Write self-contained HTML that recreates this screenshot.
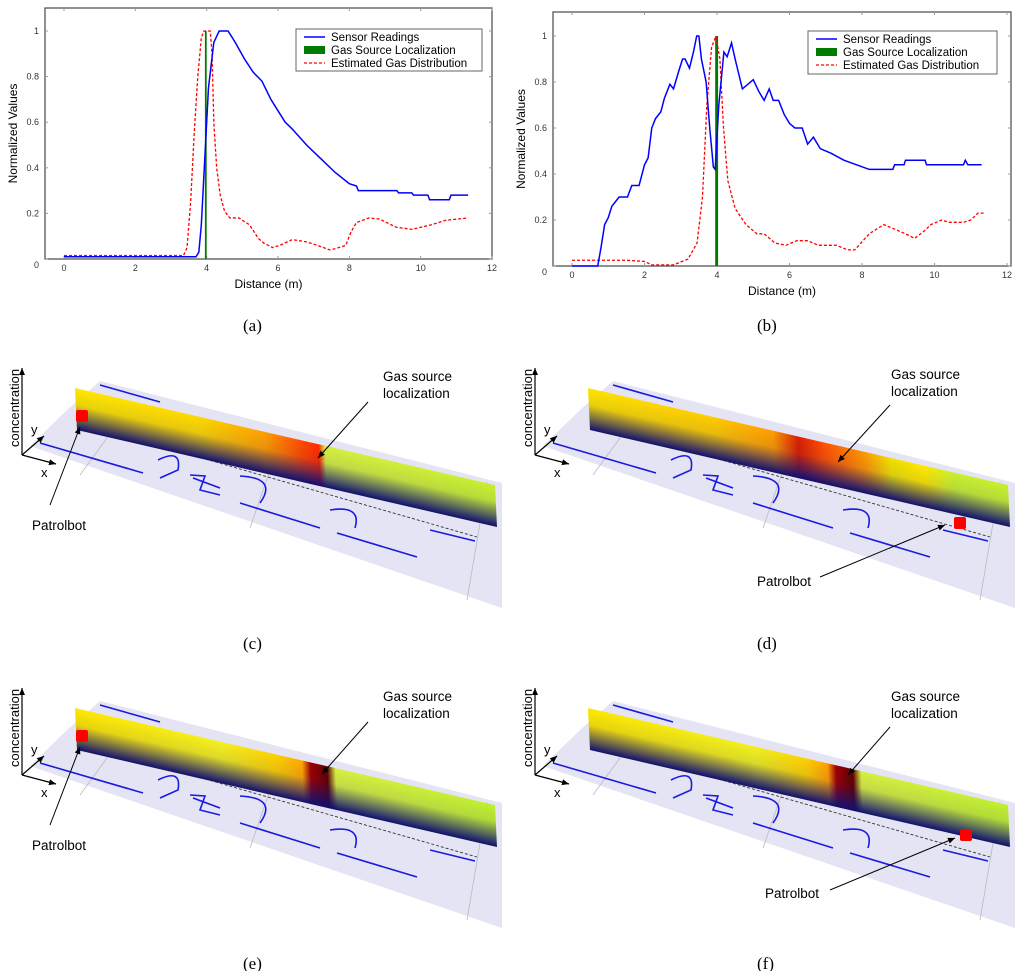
<!DOCTYPE html>
<html><head><meta charset="utf-8">
<style>
html,body{margin:0;padding:0;background:#fff;}
svg{display:block;font-family:"Liberation Sans",sans-serif;}
.cap{font-family:"Liberation Serif",serif;font-size:17px;}
</style></head>
<body>
<svg id="fig" width="1024" height="971" viewBox="0 0 1024 971" xmlns="http://www.w3.org/2000/svg">
<defs>
<linearGradient id="shade" x1="0" y1="0" x2="0" y2="1">
<stop offset="0" stop-color="#14147a" stop-opacity="0"/>
<stop offset="0.4" stop-color="#14147a" stop-opacity="0.1"/>
<stop offset="1" stop-color="#101070" stop-opacity="1"/>
</linearGradient>
<marker id="ah" markerWidth="8" markerHeight="8" refX="7" refY="4" orient="auto" markerUnits="userSpaceOnUse"><path d="M0,1 L7,4 L0,7 Z" fill="#000"/></marker>
</defs>
<g id="charts"></g>
<g id="panels"></g>
<text class="cap" x="243" y="331">(a)</text>
<text class="cap" x="757" y="331">(b)</text>
<text class="cap" x="243" y="649">(c)</text>
<text class="cap" x="757" y="649">(d)</text>
<text class="cap" x="243" y="969">(e)</text>
<text class="cap" x="757" y="969">(f)</text>
</svg>
<script>
const NS="http://www.w3.org/2000/svg";
// ---- chart data ----
const xTicks=[0,2,4,6,8,10,12];
const yTicks=[0,0.2,0.4,0.6,0.8,1];
const yTickLabels=["0","0.2","0.4","0.6","0.8","1"];
const sensorAx=[0,3.7,3.78,3.85,3.95,4.05,4.2,4.35,4.6,4.8,5.05,5.3,5.55,5.8,6.0,6.2,6.4,6.8,7.2,7.6,8.0,8.2,8.25,9.33,9.38,9.75,9.8,10.2,10.25,10.8,10.85,11.33];
const sensorAy=[0.01,0.01,0.03,0.15,0.45,0.75,0.95,1.0,1.0,0.95,0.88,0.82,0.78,0.7,0.65,0.6,0.57,0.5,0.44,0.38,0.33,0.32,0.3,0.3,0.29,0.29,0.28,0.28,0.26,0.26,0.28,0.28];
const estAx=[0,3.35,3.45,3.55,3.65,3.75,3.85,3.92,4.1,4.15,4.2,4.28,4.38,4.5,4.65,4.9,5.2,5.45,5.6,5.85,6.05,6.4,6.8,7.1,7.45,7.6,7.9,8.05,8.2,8.55,8.85,9.3,9.75,10.3,10.7,11.33];
const estAy=[0.015,0.015,0.05,0.25,0.55,0.8,0.97,1.0,1.0,0.9,0.6,0.4,0.28,0.21,0.18,0.18,0.15,0.09,0.07,0.05,0.06,0.085,0.075,0.06,0.04,0.045,0.06,0.12,0.16,0.18,0.175,0.14,0.13,0.15,0.17,0.18];
const sourceA=[3.95,4.0];
const sensorBx=[0,0.71,0.8,0.9,1.0,1.1,1.2,1.3,1.53,1.65,1.85,2.0,2.1,2.2,2.3,2.45,2.55,2.7,2.8,2.95,3.05,3.12,3.24,3.35,3.44,3.5,3.57,3.7,3.8,3.9,3.95,4.05,4.19,4.28,4.4,4.5,4.7,4.85,5.0,5.15,5.3,5.44,5.55,5.7,5.85,6.0,6.15,6.35,6.5,6.66,6.85,7.15,7.5,7.85,8.2,8.85,8.9,9.16,9.2,9.74,9.78,10.8,10.85,10.92,11.3];
const sensorBy=[0,0,0.08,0.18,0.21,0.26,0.28,0.3,0.3,0.35,0.35,0.44,0.47,0.6,0.64,0.67,0.73,0.79,0.77,0.85,0.9,0.9,0.86,0.93,1.0,1.0,0.9,0.8,0.6,0.43,0.42,0.7,0.93,0.91,0.97,0.9,0.77,0.79,0.81,0.76,0.72,0.77,0.72,0.72,0.66,0.62,0.6,0.6,0.53,0.56,0.51,0.49,0.46,0.44,0.42,0.42,0.44,0.44,0.46,0.46,0.44,0.44,0.46,0.44,0.44];
const estBx=[0,1.5,2.0,2.2,2.8,3.2,3.45,3.6,3.72,3.85,3.97,4.08,4.18,4.3,4.5,4.8,5.1,5.3,5.6,5.9,6.2,6.5,6.8,7.3,7.6,7.8,8.2,8.6,8.9,9.2,9.45,9.7,9.9,10.2,10.4,10.8,11.0,11.2,11.4];
const estBy=[0.025,0.025,0.02,0.005,0.005,0.03,0.1,0.3,0.7,0.95,1.0,0.9,0.6,0.37,0.25,0.18,0.14,0.14,0.1,0.09,0.11,0.11,0.09,0.09,0.07,0.07,0.14,0.18,0.16,0.14,0.12,0.15,0.18,0.2,0.19,0.19,0.2,0.23,0.23];
const sourceB=[3.95,4.03];

function mk(tag,attrs,parent){const e=document.createElementNS(NS,tag);for(const k in attrs)e.setAttribute(k,attrs[k]);parent.appendChild(e);return e;}

function drawChart(id,box,x0px,unit,y0px,yh,sx,sy,ex,ey,src,leg){
  const g=mk('g',{},document.getElementById('charts'));
  
  
  const X=v=>x0px+unit*v, Y=v=>y0px-yh*v;
  const fr=mk('rect',{x:box[0],y:box[1],width:box[2]-box[0],height:box[3]-box[1],fill:'#fff',stroke:'#555','stroke-width':1.3},g);
  
  
  xTicks.forEach(t=>{
    mk('line',{x1:X(t),x2:X(t),y1:box[3],y2:box[3]-3,stroke:'#999'},g);
    mk('line',{x1:X(t),x2:X(t),y1:box[1],y2:box[1]+3,stroke:'#999'},g);
    const tx=mk('text',{x:X(t),y:box[3]+12,'font-size':9,'text-anchor':'middle',fill:'#333'},g);
    tx.textContent=t;
    
    
  });
  yTicks.forEach((t,i)=>{
    mk('line',{x1:box[0],x2:box[0]+3,y1:Y(t),y2:Y(t),stroke:'#999'},g);
    mk('line',{x1:box[2],x2:box[2]-3,y1:Y(t),y2:Y(t),stroke:'#999'},g);
    const tx=mk('text',{x:box[0]-6,y:Y(t)+3+(i==0?6:0),'font-size':9,'text-anchor':'end',fill:'#333'},g);
    tx.textContent=yTickLabels[i];
    
    
  });
  const xt=mk('text',{x:(box[0]+box[2])/2,y:box[3]+29,'font-size':12,'text-anchor':'middle'},g);
  xt.textContent='Distance (m)';
  
  
  const cy=(box[1]+box[3])/2, tx0=box[0]-28;
  const yt=mk('text',{x:tx0,y:cy,'font-size':12,'text-anchor':'middle',transform:`rotate(-90 ${tx0} ${cy})`},g);
  yt.textContent='Normalized  Values';
  
  
  const s=mk('rect',{x:X(src[0]),y:Y(1),width:X(src[1])-X(src[0]),height:Y(0)-Y(1),fill:'#007a00'},g);
  
  
  const pe=mk('polyline',{points:ex.map((v,i)=>X(v)+','+Y(ey[i])).join(' '),fill:'none',stroke:'#ff0000','stroke-width':1.3,'stroke-dasharray':'3,2'},g);
  
  
  const ps=mk('polyline',{points:sx.map((v,i)=>X(v)+','+Y(sy[i])).join(' '),fill:'none',stroke:'#0000ff','stroke-width':1.5},g);
  
  
  const lg=mk('g',{},g);
  
  
  mk('rect',{x:leg[0],y:leg[1],width:leg[2],height:leg[3],fill:'#fff',stroke:'#666','stroke-width':1},lg);
  const names=['Sensor Readings','Gas Source Localization','Estimated Gas Distribution'];
  names.forEach((n,i)=>{
    const yy=leg[1]+8+i*13;
    if(i==0)mk('line',{x1:leg[0]+8,x2:leg[0]+29,y1:yy,y2:yy,stroke:'#0000ff','stroke-width':1.5},lg);
    if(i==1)mk('rect',{x:leg[0]+8,y:yy-4,width:21,height:8,fill:'#007a00'},lg);
    if(i==2)mk('line',{x1:leg[0]+8,x2:leg[0]+29,y1:yy,y2:yy,stroke:'#ff0000','stroke-width':1.3,'stroke-dasharray':'3,2'},lg);
    const t=mk('text',{x:leg[0]+35,y:yy+4,'font-size':11.5},lg);
    t.textContent=n;
    
    
  });
}
drawChart('a',[45,8,492,259],64,35.67,259,228,sensorAx,sensorAy,estAx,estAy,sourceA,[296,29,186,42]);
drawChart('b',[553,12,1011,266],572,36.25,266,230,sensorBx,sensorBy,estBx,estBy,sourceB,[808,31,189,43]);

// ---- 3D panels ----
const panelStops={
 c:[[0,'#ffe800'],[0.3,'#ffd800'],[0.45,'#ffa000'],[0.54,'#ff4a00'],[0.58,'#ff2a00'],[0.595,'#d6f040'],[1,'#c8f030']],
 d:[[0,'#ffe400'],[0.3,'#ffcc00'],[0.44,'#ff9c00'],[0.5,'#d82000'],[0.56,'#ff5000'],[0.66,'#ff9800'],[0.72,'#f0e000'],[0.8,'#ffe800'],[0.87,'#c8f030'],[1,'#c8f030']],
 e:[[0,'#ffe800'],[0.35,'#f4f020'],[0.48,'#ffd000'],[0.54,'#ffa800'],[0.56,'#a00000'],[0.6,'#600000'],[0.62,'#d8f040'],[1,'#c0f030']],
 f:[[0,'#ffe800'],[0.4,'#f0f020'],[0.52,'#ffd000'],[0.57,'#ffa000'],[0.59,'#a00000'],[0.63,'#600000'],[0.65,'#d8f040'],[1,'#c0f030']]
};
const panels=[
 {id:'c',ox:0,oy:0,robot:[82,416],gasT:[383,397],gasA:[368,402,318,458],botT:[32,530],botA:[50,505,80,427]},
 {id:'d',ox:513,oy:0,robot:[960,523],gasT:[891,395],gasA:[890,405,838,462],botT:[757,586],botA:[820,577,945,525]},
 {id:'e',ox:0,oy:320,robot:[82,736],gasT:[383,717],gasA:[368,722,322,774],botT:[32,850],botA:[50,825,80,747]},
 {id:'f',ox:513,oy:320,robot:[966,835],gasT:[891,717],gasA:[890,727,848,775],botT:[765,898],botA:[830,890,955,838]}
];
const P=document.getElementById('panels');
panels.forEach(p=>{
  const g=mk('g',{},P);
  
  
  const o=mk('g',{transform:`translate(${p.ox},${p.oy})`},g);
  const fl=mk('polygon',{points:'67,410 100,381 502,483 502,608 30,446',fill:'#e4e4f4'},o);
  
  
  mk('line',{x1:120,y1:420,x2:80,y2:475,stroke:'#bbb','stroke-width':0.8},o);
  mk('line',{x1:270,y1:470,x2:250,y2:528,stroke:'#bbb','stroke-width':0.8},o);
  mk('line',{x1:487,y1:482,x2:467,y2:600,stroke:'#bbb','stroke-width':0.8},o);
  const walls=[[40,443,143,473],[240,503,320,528],[337,533,417,557],[327,447,483,487],[100,385,160,402],[430,530,475,541],[193,478,220,488]];
  walls.forEach(w=>{const l=mk('line',{x1:w[0],y1:w[1],x2:w[2],y2:w[3],stroke:'#1a1ae0','stroke-width':1.6},o);
    
    });
  mk('path',{d:'M158,460 Q182,448 178,470 L160,478 M190,475 L205,476 L200,490 L220,495 M240,476 Q278,478 260,503 M330,510 Q362,505 355,528',stroke:'#1a1ae0','stroke-width':1.6,fill:'none'},o);
  mk('line',{x1:90,y1:426,x2:477,y2:537,stroke:'#333','stroke-width':0.9,'stroke-dasharray':'3,2'},o);
  const gid='bar-'+p.id;
  const lg=mk('linearGradient',{id:gid,x1:0,y1:0,x2:1,y2:0},document.querySelector('defs'));
  panelStops[p.id].forEach(s=>mk('stop',{offset:s[0],'stop-color':s[1]},lg));
  const bar=mk('g',{transform:'matrix(420,97,2,42,75,388)'},o);
  
  
  mk('rect',{x:0,y:0,width:1,height:1,fill:`url(#${gid})`},bar);
  mk('rect',{x:0,y:0,width:1,height:1,fill:'url(#shade)'},bar);
  const r=mk('rect',{x:p.robot[0]-p.ox-6,y:p.robot[1]-p.oy-6,width:12,height:12,fill:'#ff0000',rx:2},o);
  
  
  const ax=mk('g',{},o);
  
  
  mk('line',{x1:22,y1:455,x2:22,y2:368,stroke:'#000','stroke-width':1.2,'marker-end':'url(#ah)'},ax);
  mk('line',{x1:22,y1:455,x2:56,y2:464,stroke:'#000','stroke-width':1.2,'marker-end':'url(#ah)'},ax);
  mk('line',{x1:22,y1:455,x2:44,y2:436,stroke:'#000','stroke-width':1.2,'marker-end':'url(#ah)'},ax);
  const ct=mk('text',{x:19,y:447,'font-size':13,transform:'rotate(-90 19 447)'},ax);
  ct.textContent='concentration';
  const ty=mk('text',{x:31,y:434,'font-size':13},ax);ty.textContent='y';
  const tx=mk('text',{x:41,y:477,'font-size':13},ax);tx.textContent='x';
  const gl=mk('text',{x:p.gasT[0],y:p.gasT[1]-16,'font-size':13.5},g);
  gl.innerHTML=`<tspan x="${p.gasT[0]}" dy="0">Gas source</tspan><tspan x="${p.gasT[0]}" dy="17">localization</tspan>`;
  
  
  const ga=mk('line',{x1:p.gasA[0],y1:p.gasA[1],x2:p.gasA[2],y2:p.gasA[3],stroke:'#000','stroke-width':1,'marker-end':'url(#ah)'},g);
  
  
  const bl=mk('text',{x:p.botT[0],y:p.botT[1],'font-size':13.5},g);
  bl.textContent='Patrolbot';
  
  
  const ba=mk('line',{x1:p.botA[0],y1:p.botA[1],x2:p.botA[2],y2:p.botA[3],stroke:'#000','stroke-width':1,'marker-end':'url(#ah)'},g);
  
  
});
</script>
</body></html>
